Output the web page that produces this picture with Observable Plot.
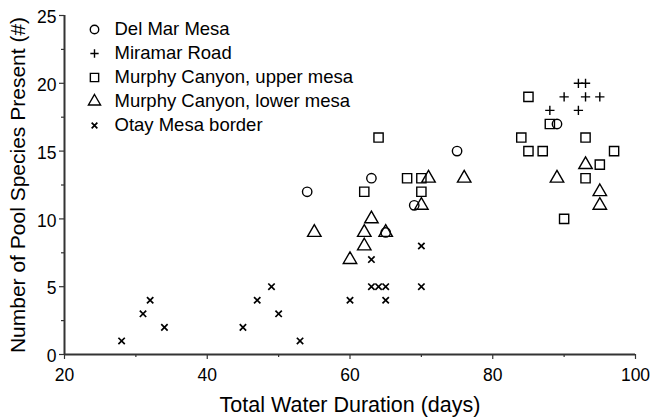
<!DOCTYPE html>
<html>
<head>
<meta charset="utf-8">
<script src="https://cdn.jsdelivr.net/npm/d3@7"></script>
<script src="https://cdn.jsdelivr.net/npm/@observablehq/plot@0.6"></script>
<style>
  html, body { margin: 0; padding: 0; background: #fff; }
  svg { display: block; }
</style>
</head>
<body>
<div id="chart"></div>
<script>
// Pool sites: [total water duration (days), species present]
const delMarMesa = [[54,12],[63,13],[65,9],[69,11],[75,15],[89,17]];
const miramarRoad = [[92,20],[93,20],[90,19],[93,19],[95,19],[88,18],[92,18]];
const murphyUpper = [[64,16],[62,12],[68,13],[70,13],[70,12],[85,19],[88,17],[84,16],[93,16],[85,15],[87,15],[97,15],[95,14],[93,13],[90,10]];
const murphyLower = [[55,9],[60,7],[62,8],[62,9],[63,10],[65,9],[70,11],[71,13],[76,13],[93,14],[89,13],[95,12],[95,11]];
const otayMesa = [[28,1],[31,3],[32,4],[34,2],[45,2],[47,4],[49,5],[50,3],[53,1],[60,4],[63,7],[63,5],[64,5],[65,5],[65,4],[70,8],[70,5]];

const seriesNames = ["Del Mar Mesa", "Miramar Road", "Murphy Canyon, upper mesa", "Murphy Canyon, lower mesa", "Otay Mesa border"];
const seriesData = [delMarMesa, miramarRoad, murphyUpper, murphyLower, otayMesa];
const seriesSymbols = ["circle", "plus", "square", "triangle", "times"];
const seriesRadius = [4.7, 3.1, 5.2, 5.0, 3.0];
const seriesStroke = [1.4, 1.4, 1.4, 1.4, 1.7];

const xMajorTicks = [20, 40, 60, 80, 100];
const xMinorTicks = [30, 50, 70, 90];
const yMajorTicks = [0, 5, 10, 15, 20, 25];
const yMinorTicks = [2.5, 7.5, 12.5, 17.5, 22.5];

const xTitle = "Total Water Duration (days)";
const yTitle = "Number of Pool Species Present (#)";

const font = "'Liberation Sans', Arial, Helvetica, sans-serif";
const ink = "#000";
const axisInk = "#333";

const series = seriesNames.map((name, i) => ({
  name, symbol: seriesSymbols[i], r: seriesRadius[i], sw: seriesStroke[i],
  points: seriesData[i].map(([days, species]) => ({days, species}))
}));

const pointMarks = series.map(s =>
  Plot.dot(s.points, {x: "days", y: "species", symbol: () => s.symbol, r: s.r,
    stroke: ink, fill: "none", strokeWidth: s.sw})
);

// Legend in the upper-left corner of the plotting area
const legendMarks = series.flatMap((s, i) => [
  Plot.dot([s], {frameAnchor: "top-left", dx: 30, dy: 14 + 24 * i,
    symbol: () => s.symbol, r: s.r * 0.9, stroke: ink, fill: "none", strokeWidth: s.sw}),
  Plot.text([s.name], {frameAnchor: "top-left", dx: 50, dy: 14 + 24 * i, lineAnchor: "middle",
    text: d => d, textAnchor: "start", fontSize: 18.5, fill: ink})
]);

const chart = Plot.plot({
  width: 653,
  height: 417,
  marginLeft: 64,
  marginRight: 18,
  marginTop: 15,
  marginBottom: 63,
  style: {fontFamily: font, fontSize: "17.5px", color: ink, background: "#fff"},
  x: {domain: [20, 100]},
  y: {domain: [0, 25]},
  marks: [
    Plot.axisX({ticks: xMajorTicks, tickSize: 5, tickPadding: 9, stroke: axisInk, strokeWidth: 1.2,
      fontSize: 17.5, label: null}),
    Plot.axisX({ticks: xMinorTicks, tickSize: 3, stroke: axisInk, strokeWidth: 1.2, text: null, label: null}),
    // y ticks, then their labels set slightly below each tick
    Plot.axisY({ticks: yMajorTicks, tickSize: 5, stroke: axisInk, strokeWidth: 1.2, text: null, label: null}),
    Plot.axisY({ticks: yMajorTicks, tickSize: 0, tickPadding: 8, dy: 2, fontSize: 17.5, label: null}),
    Plot.axisY({ticks: yMinorTicks, tickSize: 3, stroke: axisInk, strokeWidth: 1.2, text: null, label: null}),
    Plot.ruleY([0], {stroke: axisInk, strokeWidth: 2}),
    Plot.ruleX([20], {stroke: axisInk, strokeWidth: 2}),
    // Axis titles
    Plot.text([xTitle], {frameAnchor: "bottom", dy: 51, lineAnchor: "middle", text: d => d,
      fontSize: 21.5, fill: ink}),
    Plot.text([yTitle], {frameAnchor: "left", dx: -46, rotate: -90, textAnchor: "middle",
      text: d => d, fontSize: 21, fill: ink}),
    ...pointMarks,
    ...legendMarks
  ]
});

document.getElementById("chart").append(chart);
</script>
</body>
</html>
